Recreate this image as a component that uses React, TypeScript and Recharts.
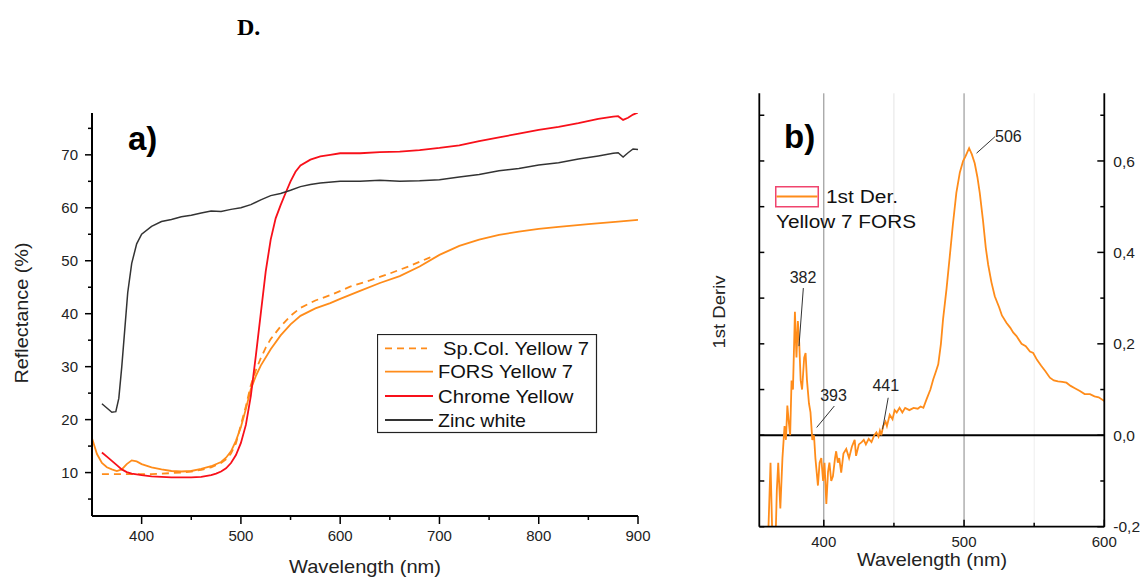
import React from 'react';
import { LineChart, Line, XAxis, YAxis, Legend, ReferenceLine, ReferenceDot } from 'recharts';

const FONT = '"Liberation Sans", Arial, Helvetica, sans-serif';
const ORANGE = '#ff8c1a';
const RED = '#f8101a';
const ZINC = '#333333';

// ---------- Panel a) reflectance spectra ----------
const spColWl = [360, 370, 380, 390, 400, 410, 420, 430, 440, 450, 460, 470, 480, 485, 490, 495, 500, 505, 510, 515, 520, 525, 530, 540, 550, 560, 575, 590, 610, 630, 650, 670, 690, 695];
const spColR = [9.7, 9.7, 9.7, 9.7, 9.7, 9.7, 9.8, 9.9, 10.0, 10.2, 10.5, 11.0, 11.8, 12.5, 13.6, 15.5, 19.0, 22.5, 26.5, 29.3, 31.6, 33.6, 35.2, 37.6, 39.6, 41.1, 42.5, 43.5, 45.1, 46.3, 47.6, 49.0, 50.6, 51.0];

const forsWl = [350, 355, 360, 365, 370, 375, 380, 385, 390, 395, 400, 410, 420, 430, 440, 450, 460, 470, 480, 485, 490, 495, 500, 505, 510, 515, 520, 530, 540, 550, 560, 575, 590, 600, 620, 640, 660, 680, 700, 720, 740, 760, 780, 800, 820, 850, 880, 900];
const forsR = [16.5, 13.5, 11.8, 11.0, 10.6, 10.3, 10.6, 11.6, 12.3, 12.1, 11.6, 11.0, 10.6, 10.3, 10.2, 10.3, 10.7, 11.2, 12.0, 12.8, 14.0, 16.0, 18.6, 22.0, 25.8, 28.2, 30.2, 33.3, 35.9, 38.0, 39.6, 41.0, 42.0, 42.8, 44.3, 45.8, 47.1, 48.9, 51.1, 52.8, 54.0, 54.9, 55.5, 56.0, 56.4, 56.9, 57.4, 57.7];

const chromeWl = [360, 365, 370, 375, 380, 385, 390, 400, 410, 420, 430, 440, 450, 460, 470, 475, 480, 485, 490, 495, 500, 505, 510, 515, 520, 525, 530, 535, 540, 545, 550, 555, 560, 570, 580, 590, 600, 620, 640, 660, 680, 700, 720, 740, 760, 780, 800, 820, 840, 860, 875, 880, 885, 890, 895, 900];
const chromeR = [13.8, 13.0, 12.2, 11.4, 10.6, 10.1, 9.8, 9.5, 9.3, 9.2, 9.1, 9.1, 9.1, 9.2, 9.5, 9.8, 10.2, 10.8, 11.8, 13.3, 15.6, 19.0, 24.5, 32.0, 40.0, 48.0, 54.0, 58.0, 60.5, 62.8, 65.0, 66.8, 68.0, 69.1, 69.7, 70.0, 70.3, 70.3, 70.5, 70.6, 70.9, 71.3, 71.8, 72.6, 73.3, 74.0, 74.7, 75.3, 76.0, 76.8, 77.2, 77.3, 76.6, 77.0, 77.6, 78.0];

const zincWl = [360, 365, 370, 374, 377, 380, 383, 386, 390, 395, 400, 410, 420, 430, 440, 450, 460, 470, 480, 490, 500, 510, 520, 530, 540, 550, 560, 570, 580, 600, 620, 640, 660, 680, 700, 720, 740, 760, 780, 800, 820, 840, 860, 875, 880, 885, 890, 895, 900];
const zincR = [23.0, 22.2, 21.4, 21.5, 24.0, 30.0, 37.0, 44.0, 49.5, 53.2, 55.0, 56.5, 57.4, 57.8, 58.3, 58.6, 59.0, 59.4, 59.3, 59.7, 60.0, 60.6, 61.5, 62.3, 62.7, 63.3, 64.0, 64.4, 64.7, 65.0, 65.0, 65.2, 65.0, 65.1, 65.3, 65.8, 66.3, 67.0, 67.4, 68.1, 68.5, 69.2, 69.8, 70.3, 70.4, 69.6, 70.4, 71.1, 71.0];

const legendNamesA = ['Sp.Col. Yellow 7', 'FORS Yellow 7', 'Chrome Yellow', 'Zinc white'];
const xTicksA = [400, 450, 500, 550, 600, 650, 700, 750, 800, 850, 900];
const yTicksA = [5, 10, 15, 20, 25, 30, 35, 40, 45, 50, 55, 60, 65, 70, 75];

// ---------- Panel b) first derivative ----------
const derivWl = [355, 359, 362, 363.5, 365, 366.5, 367.5, 369, 370.5, 372, 373, 374, 375, 376, 377, 378, 379.4, 380.5, 381.5, 382.5, 383.5, 384.5, 386, 387, 388, 389.4, 390.5, 391.8, 393, 394, 395.8, 397, 398.2, 399.5, 400.5, 401.8, 403, 404, 405.3, 406.5, 408, 408.8, 410, 411, 412.4, 414, 416, 418, 420, 422, 423, 425, 427, 428.5, 430, 432, 434, 436, 437.5, 439, 440, 441, 442.3, 444, 445, 447, 449, 450.5, 452, 454, 456, 458, 461, 464, 467, 469, 471, 473.3, 476, 478, 480, 481.6, 483.5, 485, 487.5, 489.8, 492, 494.5, 497, 499.3, 501, 503.6, 505.5, 507.6, 509.5, 511.2, 513.5, 515.5, 517.2, 519.5, 521.9, 525, 527, 530.2, 533, 535, 537.4, 541, 544, 547, 549.3, 552, 555, 558, 561.2, 564, 567, 570, 573, 576, 579, 582.6, 586, 589.8, 593, 596, 600];
const derivVal = [-0.30, -0.35, -0.06, -0.25, -0.30, -0.12, -0.06, -0.16, -0.05, 0.02, -0.01, 0.065, 0.03, 0.0, 0.12, 0.10, 0.27, 0.17, 0.25, 0.20, 0.12, 0.10, 0.17, 0.18, 0.12, 0.07, 0.05, -0.01, 0.0, -0.05, -0.11, -0.06, -0.05, -0.10, -0.06, -0.15, -0.08, -0.06, -0.10, -0.09, -0.05, -0.035, -0.06, -0.05, -0.082, -0.04, -0.03, -0.05, -0.025, -0.01, -0.045, -0.02, -0.015, -0.01, -0.02, -0.008, -0.015, 0.0, 0.006, -0.003, 0.01, 0.0, 0.02, 0.03, 0.02, 0.045, 0.035, 0.055, 0.05, 0.06, 0.05, 0.06, 0.055, 0.06, 0.058, 0.063, 0.06, 0.079, 0.10, 0.122, 0.14, 0.155, 0.20, 0.253, 0.32, 0.391, 0.46, 0.53, 0.575, 0.60, 0.61, 0.628, 0.615, 0.595, 0.565, 0.53, 0.47, 0.41, 0.373, 0.335, 0.304, 0.28, 0.262, 0.246, 0.235, 0.225, 0.217, 0.20, 0.195, 0.183, 0.18, 0.165, 0.152, 0.14, 0.126, 0.12, 0.118, 0.117, 0.115, 0.108, 0.103, 0.097, 0.09, 0.09, 0.085, 0.083, 0.075];

const xTicksB = [400, 450, 500, 550, 600];
const yTicksB = [-0.2, -0.1, 0, 0.1, 0.2, 0.3, 0.4, 0.5, 0.6, 0.7];
const peakLabels = ['382', '393', '441', '506'];
// label anchor (wavelength, value) and leader line ends
const peakLabelWl = [385.2, 406.9, 444.2, 531.6];
const peakLabelVal = [0.333, 0.075, 0.097, 0.642];
const leaderFromWl = [385.4, 407.5, 445.9, 522.0];
const leaderFromVal = [0.322, 0.064, 0.082, 0.653];
const leaderToWl = [382.3, 394.9, 441.9, 508.9];
const leaderToVal = [0.195, 0.017, 0.013, 0.617];

const toPts = (xs: number[], ys: number[]) => xs.map((x, i) => ({ x, y: ys[i] }));

const seriesA = [
  { name: legendNamesA[0], data: toPts(spColWl, spColR), color: ORANGE, dash: '7 5', width: 1.8 },
  { name: legendNamesA[1], data: toPts(forsWl, forsR), color: ORANGE, dash: undefined, width: 1.8 },
  { name: legendNamesA[2], data: toPts(chromeWl, chromeR), color: RED, dash: undefined, width: 1.8 },
  { name: legendNamesA[3], data: toPts(zincWl, zincR), color: ZINC, dash: undefined, width: 1.5 },
];
const derivData = toPts(derivWl, derivVal);

const TickAX = (p: any) => {
  const v = p.payload.value;
  const major = v % 100 === 0;
  return (
    <g>
      <line x1={p.x} x2={p.x} y1={p.y} y2={p.y + (major ? 8 : 4)} stroke="#000" strokeWidth={1.5} />
      {major && (
        <text x={p.x} y={p.y + 25} textAnchor="middle" fontSize={15} fontFamily={FONT} fill="#222">{v}</text>
      )}
    </g>
  );
};

const TickAY = (p: any) => {
  const v = p.payload.value;
  const major = v % 10 === 0;
  return (
    <g>
      <line x1={p.x} x2={p.x - (major ? 7 : 4)} y1={p.y} y2={p.y} stroke="#000" strokeWidth={1.5} />
      {major && (
        <text x={p.x - 14} y={p.y} dy="0.36em" textAnchor="end" fontSize={15} fontFamily={FONT} fill="#222">{v}</text>
      )}
    </g>
  );
};

const TickBX = (p: any) => {
  const v = p.payload.value;
  const major = v % 100 === 0;
  return (
    <g>
      <line x1={p.x} x2={p.x} y1={p.y} y2={p.y - (major ? 7 : 4)} stroke="#000" strokeWidth={1.5} />
      {major && (
        <text x={p.x} y={p.y + 20} textAnchor="middle" fontSize={15} fontFamily={FONT} fill="#222">{v}</text>
      )}
    </g>
  );
};

const TickBLeft = (p: any) => (
  <line x1={p.x} x2={p.x + 5} y1={p.y} y2={p.y} stroke="#000" strokeWidth={1.5} />
);

const TickBRight = (p: any) => {
  const v = p.payload.value;
  const major = Math.round(v * 10) % 2 === 0;
  return (
    <g>
      <line x1={p.x} x2={p.x - (major ? 7 : 4)} y1={p.y} y2={p.y} stroke="#000" strokeWidth={1.5} />
      {major && (
        <text x={p.x + 9} y={p.y} dy="0.36em" textAnchor="start" fontSize={15.5} fontFamily={FONT} fill="#222">
          {v.toFixed(1).replace('.', ',')}
        </text>
      )}
    </g>
  );
};

const legendRowY = [14.3, 37.7, 62, 86];
const legendTextX = [66, 61, 61, 61];
const legendTextW = [146, 135, 135.5, 88];

const LegendA = () => (
  <svg width={221} height={100} style={{ display: 'block' }}>
    <rect x={0.5} y={0.5} width={219} height={98} fill="#fff" stroke="#222" strokeWidth={1.2} />
    {seriesA.map((s, i) => (
      <g key={s.name}>
        <line x1={8} x2={s.dash ? 50 : 56} y1={legendRowY[i]} y2={legendRowY[i]} stroke={s.color} strokeWidth={1.8} strokeDasharray={s.dash} />
        <text x={legendTextX[i]} y={legendRowY[i] + 6.5} fontSize={18.5} fontFamily={FONT} fill="#111" textLength={legendTextW[i]} lengthAdjust="spacingAndGlyphs">{s.name}</text>
      </g>
    ))}
  </svg>
);

const LegendB = () => (
  <svg width={160} height={50} style={{ display: 'block' }}>
    <rect x={0.75} y={0.75} width={42.5} height={20} fill="#fff" stroke="#f0446e" strokeWidth={1.5} />
    <line x1={1.5} x2={42.5} y1={10.5} y2={10.5} stroke={ORANGE} strokeWidth={2} />
    <text x={51} y={17} fontSize={18} fontFamily={FONT} fill="#111" textLength={72} lengthAdjust="spacingAndGlyphs">1st Der.</text>
    <text x={1} y={42} fontSize={18} fontFamily={FONT} fill="#111" textLength={140} lengthAdjust="spacingAndGlyphs">Yellow 7 FORS</text>
  </svg>
);

export default function App() {
  return (
    <div style={{ position: 'absolute', left: 0, top: 0, width: 1145, height: 579, background: '#fff', overflow: 'hidden' }}>
      <div style={{ position: 'absolute', left: 0, top: 0 }}>
        <LineChart width={700} height={579} margin={{ top: 113, right: 62, bottom: 33, left: 42 }}>
          <XAxis dataKey="x" type="number" domain={[350, 900]} allowDataOverflow ticks={xTicksA} interval={0}
            height={30} tickSize={0} tickMargin={0} tickLine={false} tick={TickAX}
            axisLine={{ stroke: '#000', strokeWidth: 2 }} />
          <YAxis type="number" domain={[1.8, 77.9]} allowDataOverflow ticks={yTicksA} interval={0}
            width={50} tickSize={0} tickMargin={0} tickLine={false} tick={TickAY}
            axisLine={{ stroke: '#000', strokeWidth: 2 }} />
          {seriesA.map((s) => (
            <Line key={s.name} data={s.data} dataKey="y" name={s.name} type="linear" stroke={s.color}
              strokeWidth={s.width} strokeDasharray={s.dash} dot={false} isAnimationActive={false} />
          ))}
          <Legend layout="horizontal" verticalAlign="middle" align="center" content={<LegendA />}
            wrapperStyle={{ left: 377, top: 334, width: 221, height: 100 }} />
        </LineChart>
      </div>

      <div style={{ position: 'absolute', left: 700, top: 0 }}>
        <LineChart width={445} height={579} margin={{ top: 93.3, right: 0.7, bottom: 22.3, left: 29.3 }}>
          <XAxis dataKey="x" type="number" domain={[354, 600]} allowDataOverflow ticks={xTicksB} interval={0}
            height={30} tickSize={0} tickMargin={0} tickLine={false} tick={TickBX}
            axisLine={{ stroke: '#000', strokeWidth: 1.8 }} />
          <XAxis xAxisId="top" orientation="top" type="number" domain={[354, 600]} allowDataOverflow height={0}
            tick={false} tickLine={false} axisLine={{ stroke: '#000', strokeWidth: 1.8 }} />
          <YAxis yAxisId="left" orientation="left" type="number" domain={[-0.2, 0.748]} allowDataOverflow
            ticks={yTicksB} interval={0} width={30} tickSize={0} tickMargin={0} tickLine={false} tick={TickBLeft}
            axisLine={{ stroke: '#000', strokeWidth: 1.8 }} />
          <YAxis yAxisId="right" orientation="right" type="number" domain={[-0.2, 0.748]} allowDataOverflow
            ticks={yTicksB} interval={0} width={40} tickSize={0} tickMargin={0} tickLine={false} tick={TickBRight}
            axisLine={{ stroke: '#000', strokeWidth: 1.8 }} />
          <ReferenceLine yAxisId="right" x={450} stroke="#e4e4e4" strokeWidth={1} />
          <ReferenceLine yAxisId="right" x={550} stroke="#eeeeee" strokeWidth={1} />
          <ReferenceLine yAxisId="right" x={400} stroke="#888" strokeWidth={1} />
          <ReferenceLine yAxisId="right" x={500} stroke="#888" strokeWidth={1} />
          <ReferenceLine yAxisId="right" y={0} stroke="#000" strokeWidth={2} />
          <Line yAxisId="right" data={derivData} dataKey="y" name="1st Der. Yellow 7 FORS" type="linear"
            stroke={ORANGE} strokeWidth={1.8} dot={false} isAnimationActive={false} />
          {peakLabels.map((lab, i) => (
            <ReferenceLine key={'l' + lab} yAxisId="right" ifOverflow="visible" stroke="#333" strokeWidth={1}
              segment={[{ x: leaderFromWl[i], y: leaderFromVal[i] }, { x: leaderToWl[i], y: leaderToVal[i] }]} />
          ))}
          {peakLabels.map((lab, i) => (
            <ReferenceDot key={'t' + lab} yAxisId="right" x={peakLabelWl[i]} y={peakLabelVal[i]} r={0} ifOverflow="visible"
              shape={(p: any) => (
                <text x={p.cx} y={p.cy} textAnchor="middle" fontSize={16} fontFamily={FONT} fill="#222">{lab}</text>
              )} />
          ))}
          <Legend layout="horizontal" verticalAlign="middle" align="center" content={<LegendB />}
            wrapperStyle={{ left: 75, top: 186, width: 160, height: 50 }} />
        </LineChart>
      </div>

      <svg width={1145} height={579} style={{ position: 'absolute', left: 0, top: 0, pointerEvents: 'none' }}>
        <text x={237} y={35} fontSize={24} fontWeight="bold" fontFamily='"Liberation Serif", "Times New Roman", serif' fill="#000">D.</text>
        <text x={128} y={150} fontSize={33} fontWeight="bold" fontFamily={FONT} fill="#000">a)</text>
        <text x={784} y={148} fontSize={33} fontWeight="bold" fontFamily={FONT} fill="#000">b)</text>
        <text x={365} y={573} textAnchor="middle" fontSize={18.5} fontFamily={FONT} fill="#222" textLength={152} lengthAdjust="spacingAndGlyphs">Wavelength (nm)</text>
        <text x={932} y={566} textAnchor="middle" fontSize={18.5} fontFamily={FONT} fill="#222" textLength={150} lengthAdjust="spacingAndGlyphs">Wavelength (nm)</text>
        <text transform="translate(28,313) rotate(-90)" textAnchor="middle" fontSize={18} fontFamily={FONT} fill="#222" textLength={141} lengthAdjust="spacingAndGlyphs">Reflectance (%)</text>
        <text transform="translate(725,312) rotate(-90)" textAnchor="middle" fontSize={17} fontFamily={FONT} fill="#222" textLength={73} lengthAdjust="spacingAndGlyphs">1st Deriv</text>
      </svg>
    </div>
  );
}
